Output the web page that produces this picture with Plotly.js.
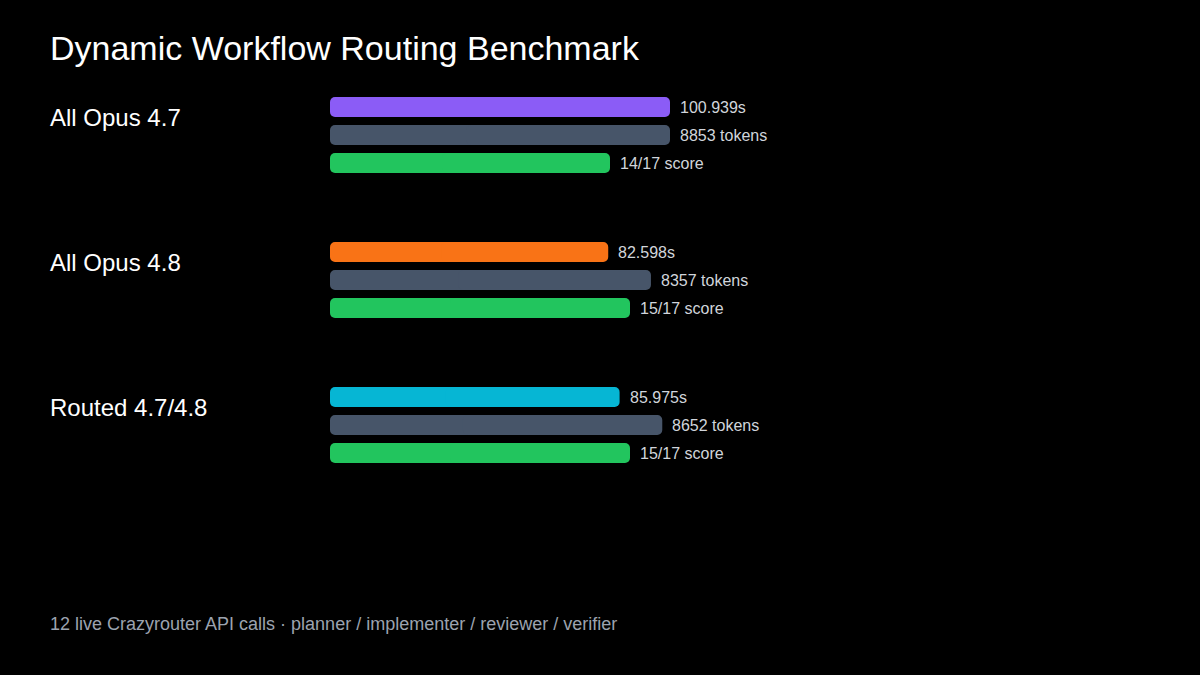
<!DOCTYPE html>
<html>
<head>
<meta charset="utf-8">
<script src="https://cdn.plot.ly/plotly-3.0.1.min.js"></script>
<style>html,body{margin:0;padding:0;background:#000;}#chart{width:1200px;height:675px;}</style>
</head>
<body>
<div id="chart"></div>
<script>
const groups = ["All Opus 4.7", "All Opus 4.8", "Routed 4.7/4.8"];
const timeSeconds = [100.939, 82.598, 85.975];
const tokens = [8853, 8357, 8652];
const scores = [14, 15, 15];
const scoreMax = 17;
const timeColors = ["#8b5cf6", "#f97316", "#06b6d4"];
const tokenColor = "#475569";
const scoreColor = "#22c55e";

const FONT = "Liberation Sans, Arial, sans-serif";
const groupStep = 145 / 28;
const maxTime = Math.max(...timeSeconds);
const maxTok = Math.max(...tokens);

const xs = [], ys = [], cols = [], labels = [];
groups.forEach((g, i) => {
  const base = i * groupStep;
  xs.push(timeSeconds[i] / maxTime); ys.push(base); cols.push(timeColors[i]);
  labels.push(timeSeconds[i].toFixed(3) + "s");
  xs.push(tokens[i] / maxTok); ys.push(base + 1); cols.push(tokenColor);
  labels.push(tokens[i] + " tokens");
  xs.push(scores[i] / scoreMax); ys.push(base + 2); cols.push(scoreColor);
  labels.push(scores[i] + "/" + scoreMax + " score");
});

// Two overlapping pieces so both ends of every bar get rounded corners
const rightPiece = {
  type: "bar", orientation: "h", y: ys,
  base: xs.map(v => v * 0.4), x: xs.map(v => v * 0.6),
  marker: {color: cols, line: {width: 0}},
  width: 20 / 28, hoverinfo: "skip"
};
const leftPiece = {
  type: "bar", orientation: "h", y: ys,
  base: xs.map(v => v * 0.6), x: xs.map(v => -v * 0.6),
  marker: {color: cols, line: {width: 0}},
  width: 20 / 28, hoverinfo: "skip"
};

const annotations = [];
xs.forEach((x, k) => {
  annotations.push({x: x, y: ys[k], xref: "x", yref: "y", text: labels[k],
    showarrow: false, xanchor: "left", yanchor: "middle", xshift: 8,
    font: {family: FONT, size: 16, color: "#d1d5db"}});
});
groups.forEach((g, i) => {
  annotations.push({x: (50 - 330) / 680, y: i * groupStep, xref: "paper", yref: "y",
    text: g, showarrow: false, xanchor: "left", yanchor: "middle", yshift: -10, xshift: -2,
    font: {family: FONT, size: 24, color: "#ffffff"}});
});
annotations.push({x: (50 - 330) / 680, y: (583 - 624) / 504, xref: "paper", yref: "paper",
  text: "12 live Crazyrouter API calls · planner / implementer / reviewer / verifier",
  showarrow: false, xanchor: "left", yanchor: "middle", xshift: -2,
  font: {family: FONT, size: 18, color: "#9ca3af"}});

const layout = {
  width: 1200, height: 675,
  paper_bgcolor: "#000000", plot_bgcolor: "#000000",
  margin: {l: 330, r: 190, t: 79, b: 92},
  showlegend: false,
  barmode: "overlay",
  barcornerradius: 5,
  title: {text: "Dynamic Workflow Routing Benchmark", xref: "container", yref: "container",
    x: 50 / 1200, xanchor: "left", y: 1 - 48 / 675, yanchor: "middle",
    font: {family: FONT, size: 34, color: "#ffffff"}},
  xaxis: {range: [0, 2], visible: false, fixedrange: true},
  yaxis: {range: [17, -1], visible: false, fixedrange: true},
  annotations: annotations
};

Plotly.newPlot("chart", [leftPiece, rightPiece], layout, {displayModeBar: false, staticPlot: true});
</script>
</body>
</html>
